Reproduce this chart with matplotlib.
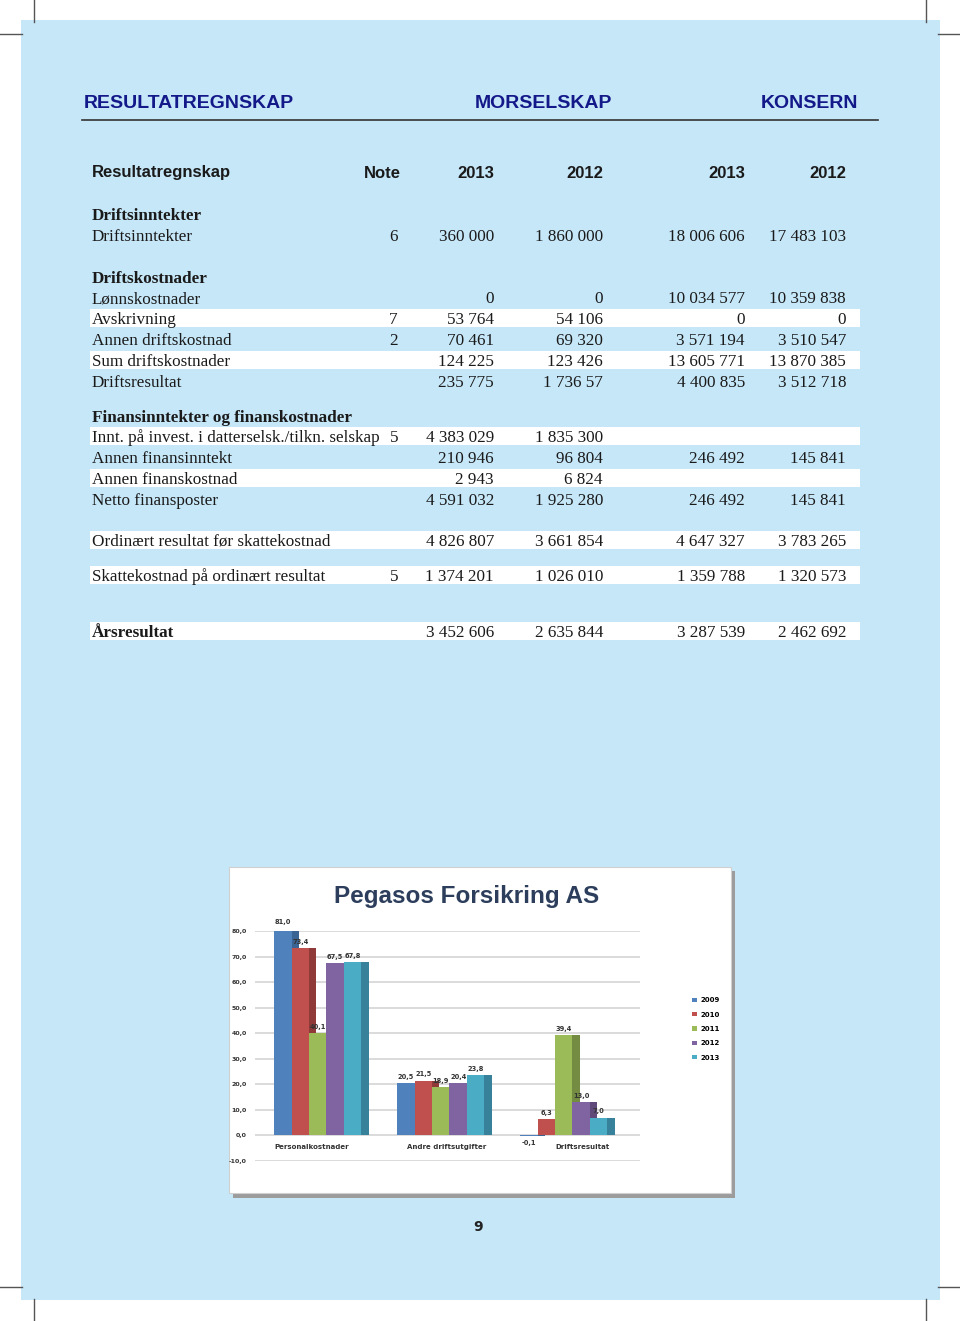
import numpy as np
import matplotlib.pyplot as plt
from matplotlib.patches import Rectangle
from matplotlib.lines import Line2D

# page size in pixels
W, H = 960, 1321

def fx(px):
    return px / W

def fy(py):
    return 1 - py / H

# ---- table data ----
headers = ['RESULTATREGNSKAP', 'MORSELSKAP', 'KONSERN']
col_titles = ['Resultatregnskap', 'Note', '2013', '2012', '2013', '2012']

row_labels = ['Driftsinntekter', 'Driftsinntekter',
              'Driftskostnader', 'Lønnskostnader', 'Avskrivning', 'Annen driftskostnad',
              'Sum driftskostnader', 'Driftsresultat',
              'Finansinntekter og finanskostnader',
              'Innt. på invest. i datterselsk./tilkn. selskap', 'Annen finansinntekt',
              'Annen finanskostnad', 'Netto finansposter',
              'Ordinært resultat før skattekostnad',
              'Skattekostnad på ordinært resultat',
              'Årsresultat']
row_bold = [1, 0, 1, 0, 0, 0, 0, 0, 1, 0, 0, 0, 0, 0, 0, 1]
row_white = [0, 0, 0, 0, 1, 0, 1, 0, 0, 1, 0, 1, 0, 1, 1, 1]
notes = ['', '6', '', '', '7', '2', '', '', '', '5', '', '', '', '', '5', '']
mor_2013 = ['', '360 000', '', '0', '53 764', '70 461', '124 225', '235 775', '',
            '4 383 029', '210 946', '2 943', '4 591 032', '4 826 807', '1 374 201', '3 452 606']
mor_2012 = ['', '1 860 000', '', '0', '54 106', '69 320', '123 426', '1 736 57', '',
            '1 835 300', '96 804', '6 824', '1 925 280', '3 661 854', '1 026 010', '2 635 844']
kon_2013 = ['', '18 006 606', '', '10 034 577', '0', '3 571 194', '13 605 771', '4 400 835', '',
            '', '246 492', '', '246 492', '4 647 327', '1 359 788', '3 287 539']
kon_2012 = ['', '17 483 103', '', '10 359 838', '0', '3 510 547', '13 870 385', '3 512 718', '',
            '', '145 841', '', '145 841', '3 783 265', '1 320 573', '2 462 692']

# ---- chart data ----
chart_title = 'Pegasos Forsikring AS'
categories = ['Personalkostnader', 'Andre driftsutgifter', 'Driftsresultat']
years = ['2009', '2010', '2011', '2012', '2013']
v2009 = [81.0, 20.5, -0.1]
v2010 = [73.4, 21.5, 6.3]
v2011 = [40.1, 18.9, 39.4]
v2012 = [67.5, 20.4, 13.0]
v2013 = [67.8, 23.8, 7.0]
series = [v2009, v2010, v2011, v2012, v2013]
colors = ['#4f81bd', '#c0504d', '#9bbb59', '#8064a2', '#4bacc6']
sides = ['#3a6494', '#8f3a38', '#738c42', '#5f4a79', '#37819a']

fig = plt.figure(figsize=(9.6, 13.21), dpi=100)
fig.patch.set_facecolor('white')

# light blue page panel
fig.patches.append(Rectangle((fx(21), fy(1300)), fx(940) - fx(21), fy(20) - fy(1300),
                             transform=fig.transFigure, facecolor='#c6e7f8',
                             edgecolor='none', zorder=0))

# crop marks
for x0, x1, y0, y1 in [(34, 34, 0, 22), (0, 22, 34, 34), (926, 926, 0, 22), (938, 960, 34, 34),
                       (34, 34, 1299, 1321), (0, 22, 1287, 1287), (926, 926, 1299, 1321),
                       (938, 960, 1287, 1287)]:
    fig.add_artist(Line2D([fx(x0), fx(x1)], [fy(y0), fy(y1)], color='#555555', lw=1))

# header
hdr_col = '#14198a'
fig.text(fx(84), fy(104), headers[0], fontsize=14, fontweight='bold', color=hdr_col,
         family='Liberation Sans', va='center', ha='left')
fig.text(fx(543), fy(104), headers[1], fontsize=14, fontweight='bold', color=hdr_col,
         family='Liberation Sans', va='center', ha='center')
fig.text(fx(858), fy(104), headers[2], fontsize=14, fontweight='bold', color=hdr_col,
         family='Liberation Sans', va='center', ha='right')
fig.add_artist(Line2D([fx(82), fx(878)], [fy(120), fy(120)], color='#333333', lw=1.2))

# column titles
col_x = [92, 401, 494, 603, 745, 846]
for i, t in enumerate(col_titles):
    fig.text(fx(col_x[i]), fy(173), t, fontsize=12, fontweight='bold', color='#1a1a1a',
             family='Liberation Sans', va='center', ha='left' if i == 0 else 'right')

# table rows
row_y = [214, 235, 277, 297, 318, 339, 360, 381, 416, 436, 457, 478, 499, 540, 575, 631]
for i, lab in enumerate(row_labels):
    y = row_y[i]
    if row_white[i]:
        fig.patches.append(Rectangle((fx(90), fy(y + 9)), fx(860) - fx(90), fy(y - 9) - fy(y + 9),
                                     transform=fig.transFigure, facecolor='white',
                                     edgecolor='none', zorder=1))
    fw = 'bold' if row_bold[i] else 'normal'
    fig.text(fx(92), fy(y + 2), lab, fontsize=12.3, fontweight=fw, color='#1a1a1a',
             family='Liberation Serif', va='center', ha='left', zorder=3)
    cells = [notes[i], mor_2013[i], mor_2012[i], kon_2013[i], kon_2012[i]]
    for j, c in enumerate(cells):
        if c:
            fig.text(fx(col_x[j + 1] - 3 if j == 0 else col_x[j + 1]), fy(y + 2), c, fontsize=12.3,
                     color='#1a1a1a', family='Liberation Serif', va='center', ha='right', zorder=3)

# chart box with shadow
fig.patches.append(Rectangle((fx(233), fy(1198)), fx(735) - fx(233), fy(871) - fy(1198),
                             transform=fig.transFigure, facecolor='#9c9c9c',
                             edgecolor='none', zorder=1))
fig.patches.append(Rectangle((fx(229), fy(1193)), fx(731) - fx(229), fy(867) - fy(1193),
                             transform=fig.transFigure, facecolor='white',
                             edgecolor='#d0d0d0', lw=0.8, zorder=2))
fig.text(fx(467), fy(896), chart_title, fontsize=17.5, fontweight='bold', color='#2c3e5c',
         family='Liberation Sans', ha='center', va='center', zorder=3)

ax = fig.add_axes([fx(255), fy(1161), fx(640) - fx(255), fy(931) - fy(1161)])
ax.set_zorder(3)
ax.patch.set_alpha(0)
x = np.arange(len(categories))
w = 0.142
d = 0.06
for k, vals in enumerate(series):
    pos = x + (k - 2) * w
    ax.bar(pos + w / 2 + d / 2, vals, width=d, color=sides[k], zorder=2 + 2 * k)
    ax.bar(pos, vals, width=w, color=colors[k], zorder=3 + 2 * k, label=years[k])
    for p, v in zip(pos, vals):
        lab = f'{v:.1f}'.replace('.', ',')
        ax.text(p, v + (1.2 if v >= 0 else -1.5), lab, fontsize=4.8, fontweight='bold',
                color='#333333', ha='center', va='bottom' if v >= 0 else 'top', zorder=20)

for i, c in enumerate(categories):
    ax.text(x[i] - 0.05 + 0.1 * i, -4.5, c, fontsize=5, fontweight='bold', color='#333333',
            ha='center', va='center', zorder=20)

ax.set_xlim(-0.51, 2.62)
ax.set_ylim(-10, 80)
ax.set_yticks(np.arange(-10, 81, 10))
ax.set_yticklabels([f'{t:.1f}'.replace('.', ',') for t in np.arange(-10, 81, 10)],
                   fontsize=4.5, fontweight='bold', color='#333333')
ax.tick_params(axis='y', length=0, pad=6)
ax.set_xticks([])
ax.yaxis.grid(True, color='#d4d4d4', lw=1.2, zorder=0)
ax.set_axisbelow(True)
for s in ax.spines.values():
    s.set_visible(False)

ax.legend(loc='center left', bbox_to_anchor=(1.12, 0.574), frameon=False,
          prop={'size': 5, 'weight': 'bold'}, handlelength=0.6, handleheight=0.6,
          labelspacing=1.2, handletextpad=0.5)

# page number
fig.text(fx(478), fy(1227), '9', fontsize=10, fontweight='bold', color='#222222',
         ha='center', va='center')

fig.savefig('out.png', dpi=100)
